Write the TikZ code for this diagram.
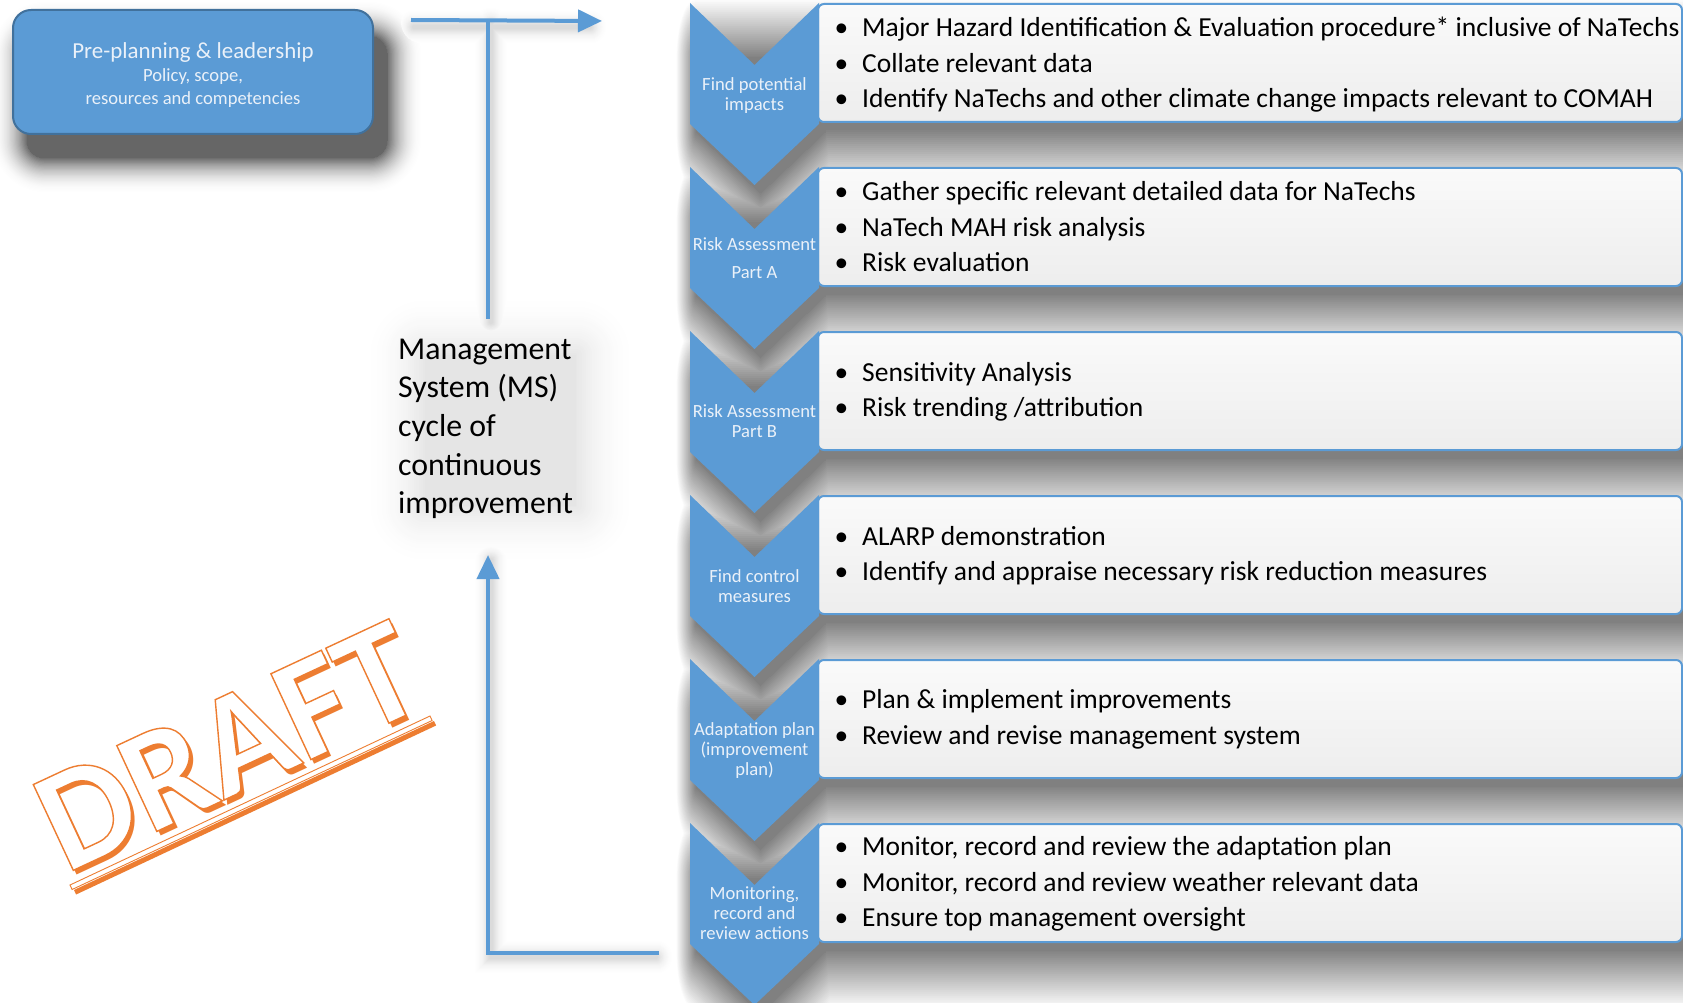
\documentclass[tikz,border=0pt]{standalone}
\usepackage{fontspec}
\setmainfont{Carlito}
\usetikzlibrary{arrows.meta,calc}
\definecolor{cblue}{HTML}{5B9BD5}
\definecolor{cdark}{HTML}{41719C}
\definecolor{corange}{HTML}{ED7D31}
\definecolor{clight}{HTML}{EAF1F9}
\newcommand\chevpath[1]{(690,#1) -- (754.5,#1+62) -- (819,#1) -- (819,#1+121) -- (754.5,#1+182) -- (690,#1+121) -- cycle}
% shadow core of a chevron+box group, y coordinates divided by #2 (canvas y-scale)
\newcommand\shadowcore[2]{(696,{(#1+55)/#2}) -- (1700,{(#1+55)/#2}) -- (1700,{(#1+127)/#2}) -- (825,{(#1+127)/#2}) -- (825,{(#1+129)/#2}) -- (760.5,{(#1+190)/#2}) -- (696,{(#1+129)/#2}) -- cycle}
\tikzset{
  bul/.style={inner sep=0pt, anchor=mid, font=\fontsize{27.5}{33}\selectfont, text=black},
  bultext/.style={inner sep=0pt, anchor=mid west, font=\fontsize{27.5}{33}\selectfont, text=black},
  chevlabel/.style={inner sep=0pt, anchor=mid, font=\fontsize{18.6}{20}\selectfont, text=clight},
  mstext/.style={inner sep=0pt, anchor=mid west, font=\fontsize{31.8}{38}\selectfont, text=black},
  pretitle/.style={inner sep=0pt, anchor=mid, font=\fontsize{22.9}{26}\selectfont, text=clight},
  presub/.style={inner sep=0pt, anchor=mid, font=\fontsize{18.6}{22}\selectfont, text=clight},
  flow/.style={draw=cblue, line width=4pt},
  flowarrow/.style={flow, -{Triangle[length=24pt,width=22pt]}},
  textbox/.style={top color=black!2, bottom color=black!7, draw=cblue, line width=2pt, rounded corners=6pt},
  chev/.style={fill=cblue},
  prebox/.style={fill=cblue, draw=cdark, line width=2pt, rounded corners=18pt},
  draftfont/.style={inner sep=0pt, font=\fontsize{146}{146}\selectfont\bfseries, rotate=25}
}
\begin{document}
\begin{tikzpicture}[x=1pt,y=-1pt]
\useasboundingbox (0,0) rectangle (1683,1003);
\clip (0,0) rectangle (1683,1003);
\fill[white] (0,0) rectangle (1683,1003);

% ---------- soft shadows and glows (solid layers, light to dark) ----------
\foreach \j in {0,...,30}{
  \pgfmathsetmacro\t{\j/30}
  \pgfmathsetmacro\lw{2*20*(1-\t)}
  \pgfmathsetmacro\dk{50*\t}
  \pgfmathsetmacro\lwp{2*36*(1-\t)}
  \pgfmathsetmacro\dkp{60*\t*\t}
  \pgfmathsetmacro\lwg{2*65*(1-\t)}
  \pgfmathsetmacro\dkg{10*\t*\t}
  \pgfmathsetmacro\lwa{4+2*16*(1-\t)}
  \pgfmathsetmacro\dka{14*\t*\t}
  \path[fill=black!\dkg, draw=black!\dkg, line width=\lwg pt, line join=round] (425,355) rectangle (575,505);
  \draw[black!\dka, line width=\lwa pt, line cap=round] (414,27) -- (590,27);
  \draw[black!\dka, line width=\lwa pt, line cap=round] (491,24) -- (491,322);
  \draw[black!\dka, line width=\lwa pt, line cap=round] (491,560) -- (491,957) -- (656,957);
  \path[fill=black!\dkp, draw=black!\dkp, line width=\lwp pt, line join=round, rounded corners=18pt] (27,36) rectangle (387,158);
  \begin{scope}[transform canvas={yscale=3}]
  \foreach \k in {0,...,5}{
    \pgfmathsetmacro\yy{3+164*\k}
    \path[fill=black!\dk, draw=black!\dk, line width=\lw pt, line join=round] \shadowcore{\yy}{3};
  }
  \end{scope}
}

% ---------- pre-planning box ----------
\node[prebox, minimum width=360pt, minimum height=124pt, inner sep=0pt] (pre) at (193,72) {};
\node[pretitle] (preT) at (193,56.4) {Pre-planning \& leadership};
\node[presub] (preS1) at (193,79.3) {Policy, scope,};
\node[presub] (preS2) at (193,102.3) {resources and competencies};

% ---------- cycle arrows ----------
\coordinate (topS) at (411,20);
\coordinate (topT) at (602,21);
\coordinate (topJ) at (488,20.4);
\coordinate (msTop) at (488,319);
\coordinate (botJ) at (488,953);
\coordinate (botE) at (659,953);
\coordinate (msBot) at (488,555);
\draw[flowarrow] (topS) -- (topT);
\draw[flow] (topJ) -- (msTop);
\draw[flowarrow] (botE) -- (botJ) -- (msBot);

% ---------- MS text ----------
\node[mstext] (ms1) at (398,357.6) {Management};
\node[mstext] (ms2) at (398,395.6) {System (MS)};
\node[mstext] (ms3) at (398,434.6) {cycle of};
\node[mstext] (ms4) at (398,473.6) {continuous};
\node[mstext] (ms5) at (398,511.6) {improvement};

% ---------- text boxes and chevrons ----------
\foreach \k in {0,...,5}{
  \pgfmathsetmacro\yy{3+164*\k}
  \shadedraw[textbox] (818,\yy+1) rectangle (1682,\yy+119);
  \fill[chev] \chevpath{\yy};
}

% chevron labels
\node[chevlabel] (c1a) at (754.5,88.3) {Find potential};
\node[chevlabel] (c1b) at (754.5,108.3) {impacts};
\node[chevlabel] (c2a) at (754.5,247.8) {Risk Assessment};
\node[chevlabel] (c2b) at (754.5,275.8) {Part A};
\node[chevlabel] (c3a) at (754.5,415.3) {Risk Assessment};
\node[chevlabel] (c3b) at (754.5,435.3) {Part B};
\node[chevlabel] (c4a) at (754.5,579.8) {Find control};
\node[chevlabel] (c4b) at (754.5,599.8) {measures};
\node[chevlabel] (c5a) at (754.5,733.3) {Adaptation plan};
\node[chevlabel] (c5b) at (754.5,753.3) {(improvement};
\node[chevlabel] (c5c) at (754.5,772.8) {plan)};
\node[chevlabel] (c6a) at (754.5,897.3) {Monitoring,};
\node[chevlabel] (c6b) at (754.5,917.3) {record and};
\node[chevlabel] (c6c) at (754.5,937) {review actions};

% bullets
\foreach \y [count=\i] in {34.5,69.8,105.2,198.6,234,269.5,378.9,414.4,543.2,578.6,706.3,741.7,853.3,888.8,924.2}{
  \node[bul] (bd\i) at (841.5,\y) {•};
}
\node[bultext] (t1) at (862,34.5) {Major Hazard Identification \& Evaluation procedure* inclusive of NaTechs};
\node[bultext] (t2) at (862,69.8) {Collate relevant data};
\node[bultext] (t3) at (862,105.2) {Identify NaTechs and other climate change impacts relevant to COMAH};
\node[bultext] (t4) at (862,198.6) {Gather specific relevant detailed data for NaTechs};
\node[bultext] (t5) at (862,234) {NaTech MAH risk analysis};
\node[bultext] (t6) at (862,269.5) {Risk evaluation};
\node[bultext] (t7) at (862,378.9) {Sensitivity Analysis};
\node[bultext] (t8) at (862,414.4) {Risk trending /attribution};
\node[bultext] (t9) at (862,543.2) {ALARP demonstration};
\node[bultext] (t10) at (862,578.6) {Identify and appraise necessary risk reduction measures};
\node[bultext] (t11) at (862,706.3) {Plan \& implement improvements};
\node[bultext] (t12) at (862,741.7) {Review and revise management system};
\node[bultext] (t13) at (862,853.3) {Monitor, record and review the adaptation plan};
\node[bultext] (t14) at (862,888.8) {Monitor, record and review weather relevant data};
\node[bultext] (t15) at (862,924.2) {Ensure top management oversight};

% ---------- DRAFT stamp ----------
\fill[corange, shift={(4,5)}] (70,885) -- (430,716) -- (432.1,720.5) -- (72.1,889.5) -- cycle;
\filldraw[fill=white, draw=corange, line width=0.9pt] (70,885) -- (430,716) -- (432.1,720.5) -- (72.1,889.5) -- cycle;
\node[draftfont, text=corange] (dsh) at (232,751) {DRAFT};
\node[draftfont] (draft) at (228,746) {\color{white}\special{pdf:literal direct 2 Tr 1.4 w 0.929 0.490 0.192 RG}DRAFT\special{pdf:literal direct 0 Tr}};
\end{tikzpicture}
\end{document}
